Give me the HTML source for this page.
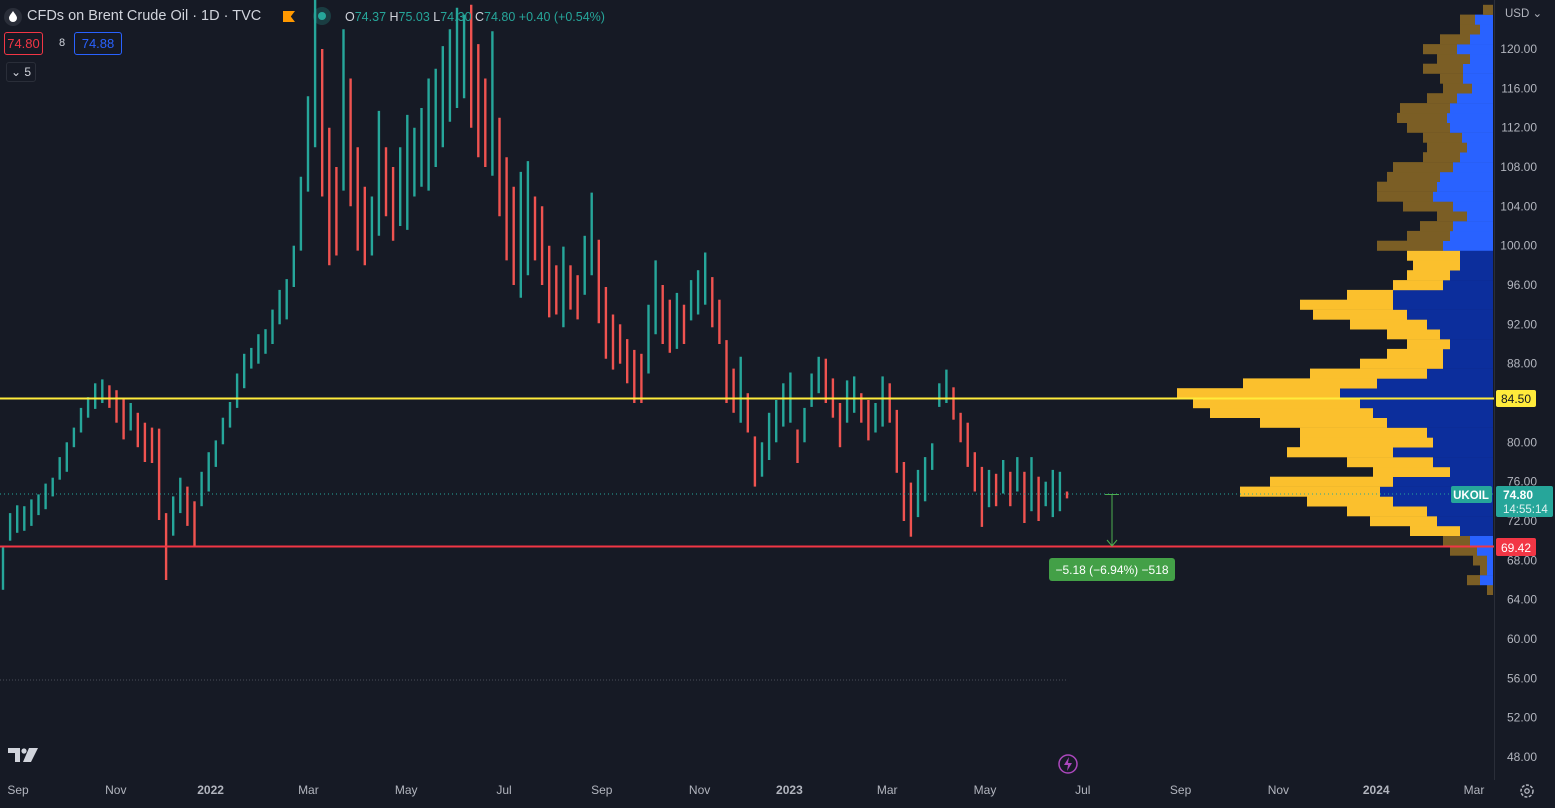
<!DOCTYPE html>
<html><head><meta charset="utf-8"><style>
html,body{margin:0;padding:0;background:#161a25;}
body{width:1555px;height:808px;overflow:hidden;font-family:"Liberation Sans",sans-serif;position:relative}
svg{position:absolute;left:0;top:0}
.hdr{position:absolute;color:#d1d4dc;font-size:14.5px;white-space:nowrap}
.box{position:absolute;border:1px solid;border-radius:3px;font-size:13px;text-align:center;box-sizing:border-box}
</style></head><body>
<svg id="chart" width="1555" height="808">
  <rect x="0" y="0" width="1555" height="808" fill="#161a25"/>
  <g id="profile"></g>
  <line x1="0" y1="680" x2="1068" y2="680" stroke="#4a4e59" stroke-width="1" stroke-dasharray="1,2"/>
  <g id="bars"></g>
  <line x1="0" y1="494" x2="1494" y2="494" stroke="#26a69a" stroke-width="1" stroke-dasharray="1,3"/>
  <line x1="0" y1="398.5" x2="1494" y2="398.5" stroke="#ffeb3b" stroke-width="2"/>
  <line x1="0" y1="546.5" x2="1494" y2="546.5" stroke="#f23645" stroke-width="2"/>
  <g>
    <line x1="1105" y1="494.5" x2="1119" y2="494.5" stroke="#4caf50" stroke-width="1"/>
    <line x1="1112" y1="494.5" x2="1112" y2="546" stroke="#4caf50" stroke-width="1"/>
    <polyline points="1107,540 1112,546 1117,540" fill="none" stroke="#4caf50" stroke-width="1"/>
  </g>
  <rect x="1049" y="558" width="126" height="23" rx="3" fill="#43a047"/>
  <text x="1112" y="574" fill="#fff" font-size="12" text-anchor="middle" font-family="Liberation Sans">−5.18 (−6.94%) −518</text>
  <line x1="1494.5" y1="0" x2="1494.5" y2="780" stroke="#2a2e39"/>
  <g id="yaxis"></g>
  <g id="xaxis"></g>
  <text x="1505" y="17" fill="#b2b5be" font-size="11.5" font-family="Liberation Sans">USD ⌄</text>
  <rect x="1496" y="390" width="40" height="17" rx="2" fill="#ffeb3b"/>
  <text x="1516" y="403" fill="#131722" font-size="12" text-anchor="middle" font-family="Liberation Sans">84.50</text>
  <rect x="1496" y="538" width="40" height="18" rx="2" fill="#f23645"/>
  <text x="1516" y="552" fill="#fff" font-size="12" text-anchor="middle" font-family="Liberation Sans">69.42</text>
  <rect x="1451" y="486" width="41" height="17" rx="2" fill="#26a69a"/>
  <text x="1471" y="499" fill="#fff" font-size="11.5" font-weight="bold" text-anchor="middle" font-family="Liberation Sans">UKOIL</text>
  <rect x="1496" y="486" width="57" height="31" rx="2" fill="#26a69a"/>
  <text x="1503" y="499" fill="#fff" font-size="12" font-weight="bold" font-family="Liberation Sans">74.80</text>
  <text x="1503" y="513" fill="#e0f2f1" font-size="11.5" font-family="Liberation Sans">14:55:14</text>
  <g>
    <path d="M8 748 h12 v14 h-5 v-9 h-7z" fill="#d1d4dc"/>
    <circle cx="24" cy="751" r="2.6" fill="#d1d4dc"/>
    <path d="M29 748 h9 l-7 14 h-8z" fill="#d1d4dc"/>
  </g>
  <g>
    <circle cx="1068" cy="764" r="9" fill="none" stroke="#ab47bc" stroke-width="1.5"/>
    <path d="M1069 757 l-5 8 h4 l-1 6 l5 -8 h-4z" fill="#ab47bc"/>
  </g>
  <g>
    <circle cx="1527" cy="791" r="6" fill="none" stroke="#b2b5be" stroke-width="1.5" stroke-dasharray="3,1.5"/>
    <circle cx="1527" cy="791" r="2.2" fill="none" stroke="#b2b5be" stroke-width="1.3"/>
  </g>
  <g>
    <circle cx="13" cy="17" r="9" fill="#2a2e39"/>
    <path d="M13 11 C15 14 17 16 17 18 A4 4 0 0 1 9 18 C9 16 11 14 13 11z" fill="#fff"/>
  </g>
</svg>

<div class="hdr" style="left:27px;top:8px">CFDs on Brent Crude Oil · 1D · TVC</div>
<div class="hdr" style="left:283px;top:11px;width:12px;height:11px;background:#ff9800;clip-path:polygon(0 0,100% 0,65% 50%,100% 100%,0 100%)"></div>
<div class="hdr" style="left:313px;top:7px;width:18px;height:18px;border-radius:50%;background:rgba(38,166,154,0.25)"><div style="position:absolute;left:5px;top:5px;width:8px;height:8px;border-radius:50%;background:#26a69a"></div></div>
<div class="hdr" style="left:345px;top:10px;font-size:12.5px">O<span style="color:#26a69a">74.37</span> H<span style="color:#26a69a">75.03</span> L<span style="color:#26a69a">74.30</span> C<span style="color:#26a69a">74.80</span> <span style="color:#26a69a">+0.40 (+0.54%)</span></div>
<div class="box" style="left:4px;top:32px;width:39px;height:23px;line-height:21px;border-color:#f23645;color:#f23645">74.80</div>
<div class="hdr" style="left:59px;top:37px;font-size:11px">8</div>
<div class="box" style="left:74px;top:32px;width:48px;height:23px;line-height:21px;border-color:#2962ff;color:#2962ff">74.88</div>
<div class="box" style="left:6px;top:62px;width:30px;height:20px;line-height:18px;border-color:#2a2e39;color:#d1d4dc;font-size:12px">⌄ 5</div>

<script>
const NS="http://www.w3.org/2000/svg";
// ---- price data (bars sampled across Sep 2021 – Jun 2023) ----
const barLows=[65.0,70.0,70.8,71.0,71.5,72.6,73.2,74.5,76.2,77.0,79.5,81.0,82.5,83.4,84.0,83.5,82.0,80.3,81.2,79.5,78.0,77.9,72.1,66.0,70.5,72.8,71.5,69.4,73.5,75.0,77.5,79.8,81.5,83.5,85.5,87.5,88.0,89.0,90.0,92.0,92.5,95.8,99.5,105.5,110.0,105.0,98.0,99.0,105.6,104.0,99.5,98.0,99.0,101.0,103.0,100.5,102.0,101.6,105.0,106.0,105.6,108.0,110.0,112.6,114.0,115.0,112.0,109.0,108.0,107.1,103.0,98.5,96.0,94.7,97.0,98.5,96.0,92.7,93.0,91.7,93.5,92.5,95.0,97.0,92.1,88.5,87.4,88.0,86.0,84.0,84.0,87.0,91.0,90.0,89.1,89.5,90.0,92.4,93.0,94.0,91.7,90.0,84.0,83.0,82.0,81.0,75.5,76.5,78.2,80.0,81.6,82.0,77.9,80.0,83.6,85.0,84.0,82.5,79.5,82.0,83.0,82.0,80.2,81.0,81.6,82.0,76.9,72.0,70.4,72.4,74.0,77.2,83.6,84.0,82.3,80.0,77.5,75.0,71.4,73.4,73.5,74.8,73.5,75.0,71.8,73.0,72.0,73.5,72.4,73.0,74.3];
const barHighs=[69.5,72.8,73.6,73.5,74.2,74.7,75.8,76.4,78.5,80.0,81.5,83.5,84.6,86.0,86.4,85.8,85.3,84.5,84.0,83.0,82.0,81.5,81.4,72.8,74.5,76.4,75.5,74.0,77.0,79.0,80.2,82.5,84.1,87.0,89.0,89.6,91.0,91.5,93.5,95.5,96.6,100.0,107.0,115.2,125.0,120.0,112.0,108.0,122.0,117.0,110.0,106.0,105.0,113.7,110.0,108.0,110.0,113.3,112.0,114.0,117.0,118.0,120.3,122.0,124.2,123.5,124.5,120.5,117.0,121.8,113.0,109.0,106.0,107.5,108.6,105.0,104.0,100.0,98.0,99.9,98.0,97.0,101.0,105.4,100.6,95.8,93.0,92.0,90.5,89.4,89.0,94.0,98.5,96.0,94.5,95.2,94.0,96.5,97.5,99.3,96.8,94.5,90.4,87.5,88.7,85.0,80.6,80.0,83.0,84.3,86.0,87.1,81.3,83.5,87.0,88.7,88.5,86.5,84.0,86.3,86.7,85.0,84.3,84.0,86.7,86.0,83.3,78.0,75.9,77.2,78.5,79.9,86.0,87.4,85.6,83.0,82.0,79.0,77.5,77.2,76.8,78.2,77.0,78.5,77.0,78.5,76.5,76.0,77.2,77.0,75.0];
// ---- volume profile data ----
const profilePrices=[65,66,67,68,69,70,71,72,73,74,75,76,77,78,79,80,81,82,83,84,85,86,87,88,89,90,91,92,93,94,95,96,97,98,99,100,101,102,103,104,105,106,107,108,109,110,111,112,113,114,115,116,117,118,119,120,121,122,123,124];
const totalVolume=[6,26,13,20,43,50,83,123,146,186,253,223,120,146,206,193,193,233,283,300,316,250,183,133,106,86,106,143,180,193,146,100,86,80,86,116,86,73,56,90,116,116,106,100,70,66,70,86,96,93,66,50,53,70,56,70,53,33,33,10];
const upVolume=[0,13,6,6,16,23,33,56,66,100,113,100,43,60,100,60,66,106,120,133,153,116,66,50,50,43,53,66,86,100,100,50,43,33,33,50,43,40,26,40,60,56,53,40,33,26,31,43,46,43,36,21,30,30,23,36,23,13,18,0];
const valueAreaLow=70.6, valueAreaHigh=99.5;
// ---- axis ticks ----
const priceTicks=[120,116,112,108,104,100,96,92,88,80,76,72,68,64,60,56,52,48];
const timeLabels=["Sep","Nov","2022","Mar","May","Jul","Sep","Nov","2023","Mar","May","Jul","Sep","Nov","2024","Mar"];
const timeMonths=[0,2,4,6,8,10,12,14,16,18,20,22,24,26,28,30];

const yScale=p=>49+(120-p)*9.833;
const xBar=i=>3+i*(1064/(barLows.length-1));
const xMonth=m=>18+m*48.9 - (m>=4?3:0) - (m>=16?8:0);
const profileRight=1493;

const bars=document.getElementById('bars');
for(let i=0;i<barLows.length;i++){
  const mid=(barLows[i]+barHighs[i])/2;
  const prev=i>0?(barLows[i-1]+barHighs[i-1])/2:mid-1;
  const l=document.createElementNS(NS,'line');
  
  
  const x=xBar(i).toFixed(1);
  let y1=yScale(barHighs[i]), y2=yScale(barLows[i]);
  if(y2-y1<4){const c=(y1+y2)/2;y1=c-2;y2=c+2;}
  l.setAttribute('x1',x);l.setAttribute('x2',x);
  l.setAttribute('y1',y1.toFixed(1));
  l.setAttribute('y2',y2.toFixed(1));
  l.setAttribute('stroke',mid>=prev?'#26a69a':'#ef5350');
  l.setAttribute('stroke-width','2.4');
  bars.appendChild(l);
}

const prof=document.getElementById('profile');
for(let i=0;i<profilePrices.length;i++){
  const p=profilePrices[i];
  const inVA=p>=valueAreaLow&&p<=valueAreaHigh;
  const top=yScale(p+0.5), h=yScale(p-0.5)-top;
  const r1=document.createElementNS(NS,'rect');
  
  
  r1.setAttribute('x',profileRight-totalVolume[i]);r1.setAttribute('y',top.toFixed(1));
  r1.setAttribute('width',totalVolume[i]-upVolume[i]);r1.setAttribute('height',(h+0.3).toFixed(1));
  r1.setAttribute('fill',inVA?'#fbc02d':'#7b5e25');
  prof.appendChild(r1);
  const r2=document.createElementNS(NS,'rect');
  
  
  r2.setAttribute('x',profileRight-upVolume[i]);r2.setAttribute('y',top.toFixed(1));
  r2.setAttribute('width',upVolume[i]);r2.setAttribute('height',(h+0.3).toFixed(1));
  r2.setAttribute('fill',inVA?'#0c2e9c':'#2962ff');
  prof.appendChild(r2);
}

const ya=document.getElementById('yaxis');
priceTicks.forEach(p=>{
  const t=document.createElementNS(NS,'text');
  
  
  t.setAttribute('x',1537);t.setAttribute('y',(yScale(p)+4).toFixed(1));
  t.setAttribute('text-anchor','end');t.setAttribute('fill','#b2b5be');
  t.setAttribute('font-size','12');t.setAttribute('font-family','Liberation Sans');
  t.textContent=p.toFixed(2);
  ya.appendChild(t);
});
const xa=document.getElementById('xaxis');
timeLabels.forEach((s,i)=>{
  const t=document.createElementNS(NS,'text');
  
  
  t.setAttribute('x',xMonth(timeMonths[i]).toFixed(1));t.setAttribute('y',794);
  t.setAttribute('text-anchor','middle');t.setAttribute('fill','#b2b5be');
  t.setAttribute('font-size','12');t.setAttribute('font-family','Liberation Sans');
  if(/^\d{4}$/.test(s))t.setAttribute('font-weight','bold');
  t.textContent=s;
  xa.appendChild(t);
});
</script>
</body></html>
